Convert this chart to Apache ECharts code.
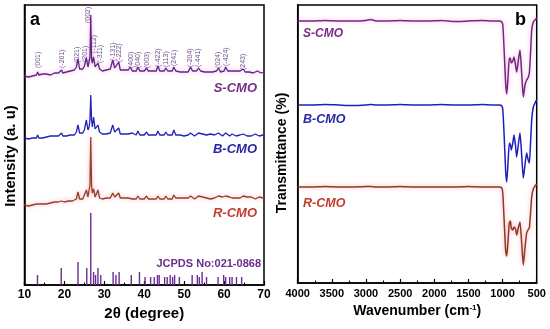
<!DOCTYPE html>
<html>
<head>
<meta charset="utf-8">
<script src="https://cdn.jsdelivr.net/npm/echarts@6/dist/echarts.min.js"></script>
<style>html,body{margin:0;padding:0;background:#fff}#c{width:550px;height:329px}</style>
</head>
<body>
<div id="c"></div>
<script>
// ---------- Panel a: XRD ----------
const xrdTheta = [
  10, 10.5, 11, 11.5, 12, 12.5, 13, 13.3, 13.6, 14,
  14.5, 15, 15.5, 16, 16.5, 17, 17.5, 18, 18.5, 19,
  19.3, 19.6, 20, 20.5, 21, 21.5, 22, 22.5, 23, 23.4,
  23.8, 24.2, 24.6, 25, 25.5, 25.9, 26.2, 26.4, 26.6, 26.8,
  27.0, 27.3, 27.7, 28.0, 28.4, 28.8, 29.1, 29.5, 30, 30.5,
  31, 31.5, 32.1, 32.6, 33, 33.6, 34, 34.5, 35, 35.5,
  36, 36.5, 37, 37.5, 38, 38.4, 38.9, 39.4, 40, 40.6,
  41, 41.5, 42, 42.5, 43, 43.4, 43.9, 44.4, 45, 45.4,
  45.9, 46.4, 47, 47.4, 47.9, 48.4, 49, 49.5, 50, 50.5,
  51, 51.6, 52.1, 52.6, 53.1, 53.6, 54.1, 54.6, 55.1, 55.6,
  56.1, 56.6, 57.1, 57.6, 58.1, 58.6, 59.1, 59.6, 60, 60.4,
  60.9, 61.4, 62, 62.5, 63, 63.5, 64, 64.8, 65.3, 65.8,
  66.3, 66.8, 67.3, 67.8, 68.3, 68.8, 69.3, 69.8, 70
];
const xrdS = [
  209, 210, 208, 210, 209, 211, 210, 213, 210, 209,
  211, 210, 211, 212, 210, 211, 212, 211, 212, 213,
  215, 212, 212, 213, 212, 214, 213, 215, 218, 226,
  216, 215, 216, 219, 227, 218, 220, 228, 270, 226,
  222, 228, 218, 217, 222, 216, 218, 214, 214, 215,
  214, 216, 225, 217, 216, 223, 215, 214, 215, 214,
  215, 218, 214, 215, 214, 218, 214, 215, 214, 217,
  214, 215, 214, 215, 214, 219, 214, 215, 214, 217,
  214, 215, 214, 218, 214, 215, 213, 214, 213, 214,
  213, 218, 214, 213, 214, 217, 214, 215, 213, 214,
  213, 214, 213, 214, 214, 217, 213, 214, 214, 218,
  214, 213, 214, 213, 214, 213, 214, 216, 213, 214,
  213, 214, 212, 213, 214, 213, 212, 213, 213
];
const xrdB = [
  147, 148, 146, 148, 147, 148, 147, 150, 147, 148,
  147, 149, 148, 147, 149, 148, 149, 148, 149, 150,
  152, 149, 148, 149, 148, 150, 149, 150, 153, 160,
  152, 151, 152, 155, 165, 155, 158, 166, 190, 165,
  158, 168, 156, 155, 160, 153, 155, 151, 150, 151,
  150, 152, 160, 153, 152, 157, 151, 150, 151, 150,
  151, 153, 152, 151, 150, 154, 150, 151, 150, 153,
  150, 151, 150, 151, 150, 154, 150, 151, 150, 153,
  150, 151, 150, 155, 150, 151, 150, 151, 149, 150,
  150, 152, 150, 149, 150, 152, 150, 151, 149, 150,
  149, 151, 150, 150, 151, 152, 150, 149, 150, 152,
  150, 149, 151, 150, 149, 151, 150, 151, 150, 149,
  150, 149, 150, 151, 150, 149, 150, 150, 150
];
const xrdR = [
  80, 81, 79, 81, 80, 82, 81, 83, 81, 82,
  81, 82, 81, 83, 82, 81, 83, 82, 83, 84,
  84, 82, 83, 82, 84, 83, 84, 83, 86, 93,
  86, 85, 86, 88, 95, 88, 90, 100, 148, 99,
  92, 96, 88, 88, 95, 87, 88, 86, 86, 87,
  86, 87, 92, 88, 87, 92, 87, 86, 87, 86,
  87, 89, 86, 87, 86, 89, 86, 87, 86, 89,
  86, 87, 86, 87, 86, 89, 86, 87, 86, 89,
  86, 87, 86, 90, 87, 86, 87, 86, 87, 86,
  87, 89, 87, 86, 87, 89, 87, 88, 86, 87,
  87, 86, 87, 87, 88, 89, 87, 88, 87, 89,
  87, 88, 87, 88, 87, 88, 87, 89, 87, 88,
  87, 88, 87, 86, 87, 88, 87, 87, 87
];
// JCPDS 021-0868 reference lines
const stickTheta = [13.25, 19.2, 23.4, 25.6, 26.6, 27.3, 27.8, 28.4, 29.1, 32.2, 32.9, 33.7, 36.75, 38.8, 40.2, 41.6, 42.5, 43.3, 43.75, 45.1, 45.75, 46.5, 47.1, 47.6, 48.8, 52, 53.3, 53.8, 54.5, 55.6, 58.5, 59.9, 60.4, 61.4, 62, 63.1, 64.4];
const stickHeight = [10, 17, 23, 17, 72, 13, 10, 17, 10, 13, 10, 13, 10, 13, 8, 8, 8, 10, 10, 8, 8, 10, 8, 10, 8, 10, 10, 8, 13, 8, 8, 10, 8, 8, 8, 8, 8];
// Miller index annotations
const hklLabels = ['(001)', '(-201)', '(021)', '(201)', '(002)', '(-112)', '(-311)', '(-131)', '(-222)', '(400)', '(040)', '(003)', '(-422)', '(113)', '(241)', '(-204)', '(-441)', '(024)', '(-424)', '(243)'];
const hklTheta = [13.4, 19.3, 23.2, 25.2, 25.95, 27.5, 28.9, 32.1, 33.8, 36.6, 38.4, 40.6, 43.5, 45.4, 47.5, 51.6, 53.6, 58.6, 60.4, 64.8];
const hklBase = [217, 217, 222, 223, 262, 232, 222, 224, 223, 217, 217, 217, 218, 218, 219, 218, 218, 217, 219, 215];

// ---------- Panel b: FTIR ----------
const ftirWave = [4000, 3800, 3600, 3400, 3200, 3000, 2930, 2850, 2700, 2500, 2300, 2100, 1900, 1700, 1500, 1300, 1150, 1050, 1010, 995, 975, 955, 939, 920, 901, 885, 872, 850, 832, 810, 793, 770, 745, 720, 696, 672, 647, 628, 608, 590, 573, 550, 525, 500];
const ftirS = [262, 262, 262.5, 262, 262, 262.5, 263.5, 262, 262, 262.5, 262, 262, 262.5, 261.5, 262, 262.5, 262, 262, 261, 257, 230, 200, 189, 205, 225, 224, 220, 222, 226, 218, 211, 222, 233, 210, 186, 198, 203, 205, 210, 230, 253, 261, 263, 265];
const ftirB = [178, 178, 178.5, 178, 177.5, 178, 178.5, 178, 178, 178.5, 178, 178, 178.5, 178, 178, 178.5, 178, 178, 177, 172, 145, 112, 101, 120, 140, 138, 133, 140, 148, 137, 126, 138, 150, 128, 105, 118, 130, 124, 120, 140, 163, 176, 180, 183];
const ftirR = [96, 96, 96.5, 96, 96, 96.5, 96.5, 96, 96, 96.5, 96, 96, 96, 96, 96.5, 96, 96, 96, 95, 88, 60, 33, 27, 42, 60, 62, 55, 53, 56, 54, 48, 55, 61, 40, 18, 35, 50, 53, 55, 70, 86, 94, 97, 99];

const FONT = 'Liberation Sans, Arial, sans-serif';
const pair = (xs, ys) => xs.map((x, i) => [x, ys[i]]);

const chart = echarts.init(document.getElementById('c'), null, {renderer: 'canvas'});

const axisLine = {show: true, lineStyle: {color: '#000', width: 1.5}};
const option = {
  animation: false,
  backgroundColor: '#fff',
  grid: [
    {left: 24.5, right: 286, top: 5, bottom: 44, show: true, borderColor: '#000', borderWidth: 1.5},
    {left: 297.7, right: 13.3, top: 5, bottom: 46, show: true, borderColor: '#000', borderWidth: 1.5}
  ],
  xAxis: [
    {
      gridIndex: 0, type: 'value', min: 10, max: 70, interval: 10,
      axisLine, axisTick: {show: true, inside: true, length: 4, lineStyle: {color: '#000', width: 1.2}},
      minorTick: {show: true, splitNumber: 2, length: 2.5, lineStyle: {color: '#000', width: 1}},
      splitLine: {show: false},
      axisLabel: {color: '#000', fontFamily: FONT, fontWeight: 'bold', fontSize: 12, margin: 4, formatter: v => String(v)},
      name: '2θ (degree)', nameLocation: 'middle', nameGap: 14,
      nameTextStyle: {color: '#000', fontFamily: FONT, fontWeight: 'bold', fontSize: 15}
    },
    {
      gridIndex: 1, type: 'value', min: 500, max: 4000, interval: 500, inverse: true,
      axisLine, axisTick: {show: true, inside: true, length: 4, lineStyle: {color: '#000', width: 1.2}},
      minorTick: {show: true, splitNumber: 2, length: 2.5, lineStyle: {color: '#000', width: 1}},
      splitLine: {show: false},
      axisLabel: {color: '#000', fontFamily: FONT, fontWeight: 'bold', fontSize: 11, margin: 5, formatter: v => String(v)},
      name: 'Wavenumber (cm{sup|-1})', nameLocation: 'middle', nameGap: 19,
      nameTextStyle: {color: '#000', fontFamily: FONT, fontWeight: 'bold', fontSize: 14,
        rich: {sup: {fontFamily: FONT, fontWeight: 'bold', fontSize: 8, verticalAlign: 'top', color: '#000'}}}
    }
  ],
  yAxis: [
    {
      gridIndex: 0, type: 'value', min: 0, max: 280,
      axisLine, axisTick: {show: false}, axisLabel: {show: false}, splitLine: {show: false},
      name: 'Intensity (a. u)', nameLocation: 'middle', nameGap: 6,
      nameTextStyle: {color: '#000', fontFamily: FONT, fontWeight: 'bold', fontSize: 15, padding: [0, 22, 0, 0]}
    },
    {
      gridIndex: 1, type: 'value', min: 0, max: 278,
      axisLine, axisTick: {show: false}, axisLabel: {show: false}, splitLine: {show: false},
      name: 'Transmittance (%)', nameLocation: 'middle', nameGap: 9,
      nameTextStyle: {color: '#000', fontFamily: FONT, fontWeight: 'bold', fontSize: 14, padding: [0, 18, 0, 0]}
    }
  ],
  series: [
    {
      type: 'bar', xAxisIndex: 0, yAxisIndex: 0, barWidth: 1.4,
      itemStyle: {color: '#6a2e8e'}, data: pair(stickTheta, stickHeight), silent: true
    },
    {
      type: 'line', xAxisIndex: 0, yAxisIndex: 0, showSymbol: false, data: pair(xrdTheta, xrdR),
      lineStyle: {color: '#8e4424', width: 1.3, shadowColor: 'rgba(255,90,150,0.55)', shadowBlur: 4}
    },
    {
      type: 'line', xAxisIndex: 0, yAxisIndex: 0, showSymbol: false, data: pair(xrdTheta, xrdB),
      lineStyle: {color: '#2222b8', width: 1.3}
    },
    {
      type: 'line', xAxisIndex: 0, yAxisIndex: 0, showSymbol: false, data: pair(xrdTheta, xrdS),
      lineStyle: {color: '#5a2a84', width: 1.3, shadowColor: 'rgba(255,90,220,0.55)', shadowBlur: 4}
    },
    {
      type: 'scatter', xAxisIndex: 0, yAxisIndex: 0, symbolSize: 0, silent: true,
      data: pair(hklTheta, hklBase).map((d, i) => ({value: d, name: hklLabels[i]})),
      label: {
        show: true, formatter: p => p.name, position: 'inside', rotate: 90,
        align: 'left', verticalAlign: 'middle', fontFamily: FONT, fontSize: 7, color: '#4b2372', distance: 0
      }
    },
    {
      type: 'line', xAxisIndex: 1, yAxisIndex: 1, showSymbol: false, smooth: 0.2, data: pair(ftirWave, ftirR),
      lineStyle: {color: '#8c3b1e', width: 1.5, shadowColor: 'rgba(255,80,120,0.5)', shadowBlur: 4}
    },
    {
      type: 'line', xAxisIndex: 1, yAxisIndex: 1, showSymbol: false, smooth: 0.2, data: pair(ftirWave, ftirB),
      lineStyle: {color: '#1f1fbf', width: 1.5}
    },
    {
      type: 'line', xAxisIndex: 1, yAxisIndex: 1, showSymbol: false, smooth: 0.2, data: pair(ftirWave, ftirS),
      lineStyle: {color: '#6f2a7c', width: 1.5, shadowColor: 'rgba(255,90,220,0.5)', shadowBlur: 4}
    }
  ],
  graphic: [
    {type: 'text', x: 30, y: 20.5, style: {text: 'a', font: 'bold 18px ' + FONT, fill: '#000', textAlign: 'left', textVerticalAlign: 'middle'}},
    {type: 'text', x: 515, y: 20, style: {text: 'b', font: 'bold 18px ' + FONT, fill: '#000', textAlign: 'left', textVerticalAlign: 'middle'}},
    {type: 'text', x: 257, y: 88, style: {text: 'S-CMO', font: 'italic bold 13px ' + FONT, fill: '#7a2b88', textAlign: 'right', textVerticalAlign: 'middle'}},
    {type: 'text', x: 257, y: 149, style: {text: 'B-CMO', font: 'italic bold 13px ' + FONT, fill: '#2626a8', textAlign: 'right', textVerticalAlign: 'middle'}},
    {type: 'text', x: 257, y: 213.5, style: {text: 'R-CMO', font: 'italic bold 13px ' + FONT, fill: '#c43a2c', textAlign: 'right', textVerticalAlign: 'middle'}},
    {type: 'text', x: 261, y: 264, style: {text: 'JCPDS No:021-0868', font: 'bold 11px ' + FONT, fill: '#6a2e8e', textAlign: 'right', textVerticalAlign: 'middle'}},
    {type: 'text', x: 303, y: 34, style: {text: 'S-CMO', font: 'italic bold 12px ' + FONT, fill: '#7a2b88', textAlign: 'left', textVerticalAlign: 'middle'}},
    {type: 'text', x: 303, y: 120, style: {text: 'B-CMO', font: 'italic bold 12.5px ' + FONT, fill: '#2626a8', textAlign: 'left', textVerticalAlign: 'middle'}},
    {type: 'text', x: 303, y: 203.5, style: {text: 'R-CMO', font: 'italic bold 12.5px ' + FONT, fill: '#c43a2c', textAlign: 'left', textVerticalAlign: 'middle'}}
  ]
};
chart.setOption(option);
</script>
</body>
</html>
